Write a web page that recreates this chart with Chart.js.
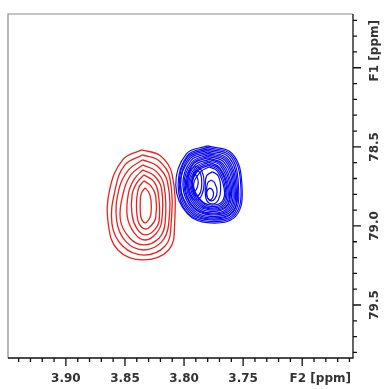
<!DOCTYPE html>
<html>
<head>
<meta charset="utf-8">
<script src="https://cdn.jsdelivr.net/npm/chart.js@4.4.1/dist/chart.umd.min.js"></script>
<style>
  html, body { margin: 0; padding: 0; background: #fff; }
  canvas { display: block; }
</style>
</head>
<body>
<canvas id="nmr" width="384" height="389"></canvas>
<script>
// axis ranges (ppm), both axes run "backwards" like in the NMR software
const xRange = [3.657, 3.949];
const yRange = [77.66, 79.835];

const xMinorTicks = [3.66, 3.67, 3.68, 3.69, 3.70, 3.71, 3.72, 3.73, 3.74, 3.75, 3.76, 3.77, 3.78, 3.79, 3.80,
  3.81, 3.82, 3.83, 3.84, 3.85, 3.86, 3.87, 3.88, 3.89, 3.90, 3.91, 3.92, 3.93, 3.94];
const xMajorTicks = [3.70, 3.75, 3.80, 3.85, 3.90];
const xTickLabels = ['', '3.75', '3.80', '3.85', '3.90'];
const xTitle = 'F2 [ppm]';

const yMinorTicks = [77.7, 77.8, 77.9, 78.0, 78.1, 78.2, 78.3, 78.4, 78.5, 78.6, 78.7, 78.8, 78.9, 79.0,
  79.1, 79.2, 79.3, 79.4, 79.5, 79.6, 79.7, 79.8];
const yMajorTicks = [78.0, 78.5, 79.0, 79.5];
const yTickLabels = ['', '78.5', '79.0', '79.5'];
const yTitle = 'F1 [ppm]';

// contour levels, outer -> inner, [F2, F1] in ppm
const redContours = [
  [[3.836, 78.519], [3.820, 78.557], [3.810, 78.677], [3.808, 78.994], [3.813, 79.152], [3.835, 79.215], [3.856, 79.152], [3.864, 78.994], [3.863, 78.772], [3.852, 78.582]],
  [[3.835, 78.551], [3.821, 78.589], [3.812, 78.696], [3.811, 78.994], [3.816, 79.127], [3.834, 79.184], [3.852, 79.127], [3.861, 78.987], [3.858, 78.760], [3.850, 78.614]],
  [[3.835, 78.582], [3.823, 78.620], [3.814, 78.722], [3.813, 78.987], [3.819, 79.101], [3.834, 79.152], [3.849, 79.101], [3.857, 78.968], [3.855, 78.766], [3.847, 78.646]],
  [[3.835, 78.614], [3.824, 78.652], [3.817, 78.741], [3.816, 78.981], [3.821, 79.076], [3.834, 79.120], [3.846, 79.076], [3.854, 78.956], [3.851, 78.779], [3.845, 78.677]],
  [[3.835, 78.646], [3.825, 78.684], [3.819, 78.766], [3.819, 78.975], [3.824, 79.051], [3.833, 79.089], [3.842, 79.045], [3.848, 78.943], [3.847, 78.791], [3.842, 78.703]],
  [[3.834, 78.677], [3.826, 78.715], [3.822, 78.785], [3.821, 78.962], [3.825, 79.025], [3.833, 79.057], [3.840, 79.016], [3.844, 78.930], [3.844, 78.804], [3.840, 78.728]],
  [[3.834, 78.715], [3.828, 78.747], [3.824, 78.810], [3.824, 78.949], [3.828, 79.000], [3.833, 79.019], [3.838, 78.987], [3.840, 78.918], [3.840, 78.823], [3.838, 78.753]],
  [[3.833, 78.760], [3.830, 78.785], [3.828, 78.836], [3.828, 78.924], [3.830, 78.962], [3.833, 78.981], [3.836, 78.956], [3.837, 78.911], [3.837, 78.836], [3.836, 78.791]]
];

const blueContours = [
  [[3.780, 78.494], [3.759, 78.544], [3.751, 78.741], [3.756, 78.937], [3.778, 78.981], [3.797, 78.924], [3.807, 78.741], [3.798, 78.544]],
  [[3.780, 78.503], [3.760, 78.551], [3.752, 78.741], [3.757, 78.930], [3.778, 78.972], [3.797, 78.918], [3.805, 78.741], [3.797, 78.554]],
  [[3.780, 78.513], [3.761, 78.557], [3.754, 78.741], [3.758, 78.924], [3.778, 78.962], [3.796, 78.911], [3.804, 78.741], [3.797, 78.563]],
  [[3.780, 78.522], [3.762, 78.566], [3.755, 78.744], [3.759, 78.918], [3.778, 78.956], [3.795, 78.905], [3.803, 78.741], [3.796, 78.570]],
  [[3.780, 78.532], [3.763, 78.576], [3.756, 78.747], [3.759, 78.911], [3.778, 78.949], [3.794, 78.899], [3.803, 78.741], [3.795, 78.576]],
  [[3.780, 78.541], [3.764, 78.582], [3.757, 78.747], [3.760, 78.905], [3.778, 78.940], [3.793, 78.892], [3.801, 78.741], [3.794, 78.585]],
  [[3.780, 78.551], [3.765, 78.589], [3.758, 78.747], [3.761, 78.899], [3.778, 78.930], [3.792, 78.886], [3.800, 78.741], [3.793, 78.595]],
  [[3.780, 78.560], [3.766, 78.598], [3.759, 78.750], [3.762, 78.892], [3.778, 78.924], [3.792, 78.880], [3.799, 78.741], [3.792, 78.601]],
  [[3.780, 78.570], [3.767, 78.608], [3.760, 78.753], [3.763, 78.886], [3.778, 78.918], [3.791, 78.873], [3.798, 78.741], [3.792, 78.608]],
  [[3.779, 78.579], [3.768, 78.614], [3.761, 78.756], [3.764, 78.880], [3.778, 78.908], [3.790, 78.867], [3.797, 78.741], [3.791, 78.617]],
  [[3.779, 78.589], [3.769, 78.620], [3.762, 78.760], [3.764, 78.873], [3.778, 78.899], [3.789, 78.861], [3.796, 78.741], [3.790, 78.627]],
  [[3.779, 78.598], [3.770, 78.630], [3.763, 78.760], [3.765, 78.867], [3.778, 78.892], [3.788, 78.854], [3.795, 78.741], [3.789, 78.633]],
  [[3.779, 78.608], [3.770, 78.639], [3.764, 78.760], [3.766, 78.861], [3.778, 78.886], [3.787, 78.848], [3.794, 78.741], [3.788, 78.639]],
  [[3.779, 78.617], [3.771, 78.646], [3.765, 78.763], [3.767, 78.854], [3.778, 78.877], [3.786, 78.842], [3.793, 78.741], [3.788, 78.649]],
  [[3.779, 78.627], [3.772, 78.652], [3.766, 78.766], [3.768, 78.848], [3.778, 78.867], [3.786, 78.836], [3.792, 78.741], [3.786, 78.658]],
  // left shoulder
  [[3.790, 78.620], [3.785, 78.652], [3.783, 78.728], [3.785, 78.804], [3.790, 78.836], [3.795, 78.804], [3.797, 78.728], [3.795, 78.652]],
  [[3.789, 78.646], [3.786, 78.671], [3.785, 78.728], [3.786, 78.785], [3.789, 78.810], [3.792, 78.785], [3.793, 78.728], [3.792, 78.671]],
  [[3.791, 78.671], [3.789, 78.690], [3.788, 78.722], [3.789, 78.760], [3.791, 78.779], [3.792, 78.760], [3.793, 78.722], [3.792, 78.690]],
  // main top
  [[3.776, 78.658], [3.771, 78.684], [3.769, 78.766], [3.771, 78.836], [3.776, 78.861], [3.781, 78.836], [3.782, 78.766], [3.781, 78.684]],
  [[3.777, 78.709], [3.774, 78.728], [3.772, 78.785], [3.774, 78.829], [3.777, 78.842], [3.780, 78.823], [3.781, 78.779], [3.780, 78.728]],
  [[3.778, 78.760], [3.776, 78.772], [3.775, 78.797], [3.776, 78.823], [3.778, 78.836], [3.780, 78.823], [3.781, 78.797], [3.780, 78.772]]
];

function ring(points) {
  const d = points.map((p) => ({ x: p[0], y: p[1] }));
  d.push(d[0]); // close the level
  return d;
}

function levelDataset(points, color, width) {
  return {
    data: ring(points),
    borderColor: color,
    borderWidth: width,
    pointRadius: 0,
    tension: 0.4,
    fill: false,
  };
}

// frame, ticks and rotated labels the way Topspin prints them
const nmrAxes = {
  id: 'nmrAxes',
  afterDraw(chart) {
    const { ctx, chartArea: a } = chart;
    const xs = chart.scales.x;
    const ys = chart.scales.y;
    ctx.save();
    ctx.lineWidth = 1.2;
    ctx.strokeStyle = '#8a8a8a';
    ctx.beginPath();
    ctx.moveTo(a.left, a.bottom);
    ctx.lineTo(a.left, a.top);
    ctx.lineTo(a.right, a.top);
    ctx.stroke();

    ctx.strokeStyle = '#111';
    ctx.lineWidth = 1.3;
    ctx.beginPath();
    ctx.moveTo(a.left, a.bottom);
    ctx.lineTo(a.right, a.bottom);
    ctx.lineTo(a.right, a.top);
    xMinorTicks.forEach((v) => {
      const px = xs.getPixelForValue(v);
      const len = xMajorTicks.some((m) => Math.abs(m - v) < 1e-6) ? 8 : 4;
      ctx.moveTo(px, a.bottom);
      ctx.lineTo(px, a.bottom + len);
    });
    yMinorTicks.forEach((v) => {
      const py = ys.getPixelForValue(v);
      const len = yMajorTicks.some((m) => Math.abs(m - v) < 1e-6) ? 8 : 4;
      ctx.moveTo(a.right, py);
      ctx.lineTo(a.right + len, py);
    });
    ctx.stroke();

    ctx.fillStyle = '#333';
    ctx.font = 'bold 12px "DejaVu Sans", sans-serif';
    ctx.textBaseline = 'middle';
    ctx.textAlign = 'center';
    xMajorTicks.forEach((v, i) => {
      if (xTickLabels[i]) ctx.fillText(xTickLabels[i], xs.getPixelForValue(v), a.bottom + 21);
    });
    ctx.textAlign = 'right';
    ctx.fillText(xTitle, a.right - 2, a.bottom + 21);

    yMajorTicks.forEach((v, i) => {
      if (!yTickLabels[i]) return;
      ctx.save();
      ctx.translate(a.right + 22, ys.getPixelForValue(v));
      ctx.rotate(-Math.PI / 2);
      ctx.textAlign = 'center';
      ctx.fillText(yTickLabels[i], 0, 0);
      ctx.restore();
    });
    ctx.save();
    ctx.translate(a.right + 22, a.top + 6);
    ctx.rotate(-Math.PI / 2);
    ctx.textAlign = 'right';
    ctx.fillText(yTitle, 0, 0);
    ctx.restore();
    ctx.restore();
  },
};

new Chart(document.getElementById('nmr'), {
  type: 'line',
  data: {
    datasets: [
      ...redContours.map((r) => levelDataset(r, '#e8231f', 1.3)),
      ...blueContours.map((r) => levelDataset(r, '#0a0af2', 1.2)),
    ],
  },
  options: {
    responsive: false,
    animation: false,
    devicePixelRatio: 1,
    layout: { padding: { left: 8, top: 14, right: 31, bottom: 31 } },
    plugins: { legend: { display: false }, tooltip: { enabled: false } },
    scales: {
      x: { type: 'linear', display: false, reverse: true, min: xRange[0], max: xRange[1] },
      y: { type: 'linear', display: false, reverse: true, min: yRange[0], max: yRange[1] },
    },
  },
  plugins: [nmrAxes],
});
</script>
</body>
</html>
